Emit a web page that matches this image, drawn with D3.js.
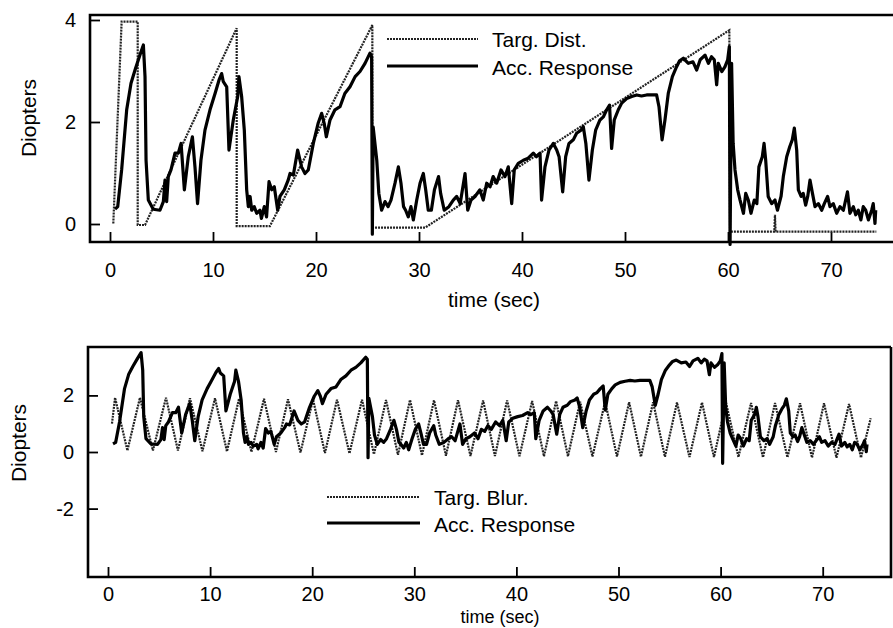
<!DOCTYPE html>
<html>
<head>
<meta charset="utf-8">
<script src="https://cdn.jsdelivr.net/npm/d3@7"></script>
<style>
  body { margin: 0; background: #fff; }
  svg { display: block; font-family: "Liberation Sans", Arial, Helvetica, sans-serif; }
</style>
</head>
<body>
<div id="graph"></div>
<script>
// accommodation response (diopters) vs time, same trace used in both panels
var respTime = [0.49,0.75,1.13,1.62,2.04,2.43,2.85,3.24,3.40,3.50,3.72,4.20,4.85,5.18,5.34,5.50,5.66,5.92,6.31,6.63,
  6.90,7.22,7.60,8.00,8.25,8.50,8.83,9.22,9.71,10.20,10.58,10.84,11.00,11.33,11.55,11.97,12.40,12.52,12.78,13.04,
  13.27,13.43,13.60,13.76,14.00,14.24,14.56,14.70,14.98,15.20,15.44,15.70,15.95,16.28,16.50,16.92,17.30,17.48,17.80,18.22,
  18.60,18.93,19.25,19.74,20.20,20.55,20.80,21.00,21.36,21.84,22.33,22.80,23.30,23.80,24.27,24.76,25.24,25.40,25.47,25.55,
  25.90,26.10,26.37,26.70,27.00,27.28,27.67,28.00,28.25,28.50,28.70,28.96,29.22,29.45,29.78,30.10,30.42,30.65,30.90,31.20,
  31.50,31.90,32.10,32.45,32.90,33.33,33.66,34.00,34.47,34.73,35.05,35.44,35.90,36.24,36.57,36.90,37.20,37.54,37.96,38.35,
  38.67,39.00,39.25,39.64,40.13,40.60,41.10,41.40,41.75,41.90,42.23,42.62,43.04,43.37,43.60,43.95,44.24,44.56,44.98,45.30,
  45.73,45.95,46.20,46.50,46.83,47.15,47.57,47.90,48.22,48.50,48.70,48.96,49.35,49.68,50.16,50.65,51.14,51.60,52.10,52.60,
  53.07,53.30,53.60,53.88,54.20,54.60,55.00,55.30,55.66,56.15,56.60,56.96,57.30,57.77,58.10,58.40,58.67,58.90,59.06,59.40,
  59.70,59.97,60.13,60.20,60.35,60.50,60.68,60.94,61.17,61.50,61.72,61.97,62.23,62.55,62.80,63.00,63.33,63.50,63.66,63.90,
  64.24,64.56,64.80,65.15,65.37,65.70,66.00,66.24,66.44,66.67,66.83,67.10,67.30,67.54,67.74,67.96,68.20,68.45,68.77,69.10,
  69.35,69.67,69.90,70.22,70.55,70.87,71.20,71.60,71.84,72.17,72.40,72.65,72.90,73.13,73.37,73.63,73.95,74.10,74.27,74.34];
var respDiopters = [0.29,0.34,1.06,2.24,2.76,3.02,3.28,3.51,2.89,1.25,0.47,0.29,0.27,0.44,0.86,0.44,0.93,1.06,1.39,1.39,
  1.58,0.67,1.32,1.71,1.12,0.40,1.25,1.84,2.24,2.56,2.82,2.95,2.79,2.69,1.45,2.04,2.50,2.89,2.50,1.84,
  0.67,0.34,0.54,0.27,0.34,0.21,0.27,0.11,0.34,0.14,0.83,0.67,0.73,0.27,0.54,0.67,0.86,0.99,0.96,1.45,
  1.12,0.99,1.06,1.58,1.97,2.17,1.97,1.71,2.04,2.24,2.30,2.56,2.69,2.89,2.99,3.15,3.35,3.28,-0.20,1.90,
  1.25,0.60,0.27,0.44,0.34,0.47,0.80,1.12,0.80,0.34,0.27,0.14,0.34,0.08,0.47,0.80,0.99,0.67,0.27,0.27,
  0.67,0.93,0.60,0.27,0.34,0.47,0.54,0.40,0.99,0.27,0.47,0.54,0.67,0.47,0.80,0.73,0.93,0.80,1.06,0.93,
  1.12,0.40,1.06,1.19,1.25,1.29,1.39,1.32,1.39,0.47,1.12,1.45,1.58,1.45,1.32,0.63,1.32,1.58,1.65,1.78,
  1.84,1.91,1.58,0.86,1.45,1.84,2.04,2.10,2.24,2.33,1.48,2.04,2.24,2.37,2.46,2.50,2.53,2.51,2.53,2.53,
  2.53,2.30,1.65,2.04,2.56,2.89,3.08,3.20,3.25,3.15,3.18,3.02,3.22,3.31,3.15,3.28,3.22,2.73,3.15,2.99,
  3.08,3.22,3.48,-0.40,3.15,1.58,1.06,0.67,0.47,0.21,0.60,0.47,0.21,0.47,0.40,1.12,1.32,1.58,1.25,0.54,
  0.40,0.47,0.27,0.54,0.93,1.32,1.52,1.65,1.88,1.45,0.67,0.54,0.60,0.37,0.54,0.86,0.60,0.34,0.40,0.27,
  0.40,0.54,0.34,0.40,0.21,0.34,0.27,0.63,0.21,0.34,0.18,0.27,0.08,0.34,0.27,0.08,0.27,0.40,0.01,0.27];

// target distance (top panel)
var distTime = [0.32,1.13,2.69,2.69,3.40,12.30,12.30,15.53,25.47,25.47,30.60,60.13,60.20,64.50,64.56,64.62,74.40];
var distDiopters = [0.01,3.97,3.97,-0.02,-0.02,3.84,-0.04,-0.04,3.90,-0.07,-0.07,3.80,-0.15,-0.15,0.18,-0.15,-0.15];

// target blur (bottom panel)
var blurTime = [0.39,0.69,1.90,3.13,4.40,5.68,6.85,8.03,9.25,10.48,11.65,12.83,14.05,15.28,16.45,17.63,18.85,20.08,21.25,22.43,
  23.65,24.88,26.05,27.23,28.40,29.58,30.75,31.93,33.10,34.28,35.50,36.74,37.90,39.09,40.30,41.54,42.70,43.89,45.05,46.24,
  47.45,48.69,49.85,51.04,52.20,53.39,54.55,55.73,56.95,58.18,59.35,60.53,61.75,62.98,64.15,65.33,66.55,67.78,68.95,70.13,
  71.35,72.58,73.75,74.70];
var blurDiopters = [1.00,1.92,0.05,1.92,0.05,1.92,0.05,1.90,0.03,1.90,0.02,1.88,0.00,1.88,0.00,1.86,-0.02,1.86,-0.04,1.85,
  -0.05,1.85,-0.08,1.84,-0.10,1.84,-0.12,1.83,-0.13,1.83,-0.14,1.82,-0.14,1.82,-0.15,1.80,-0.15,1.80,-0.15,1.78,
  -0.16,1.78,-0.16,1.76,-0.17,1.76,-0.17,1.75,-0.18,1.75,-0.18,1.74,-0.18,1.73,-0.19,1.73,-0.19,1.72,-0.20,1.72,
  -0.20,1.70,-0.20,1.19];

var timeTicks = [0, 10, 20, 30, 40, 50, 60, 70];
var topYTicks = [0, 2, 4];
var bottomYTicks = [-2, 0, 2];

var svgWidth = 893, svgHeight = 628;
var svg = d3.select("#graph").append("svg")
  .attr("width", svgWidth)
  .attr("height", svgHeight);

var targetColor = "#222";
var targetDash = "2,1";

function drawPanel(p) {
  var x = d3.scaleLinear().domain([0, 75]).range(p.xRange);
  var y = d3.scaleLinear().domain([0, 2]).range(p.yRange);
  var g = svg.append("g");

  // frame
  g.append("path")
    .attr("d", `M${p.right},${p.top} H${p.left} V${p.bottom} H${p.right}` + (p.rightEdge ? ` V${p.top}` : ""))
    .attr("fill", "none")
    .attr("stroke", "#000")
    .attr("stroke-width", 2.6);

  var xAxis = g.append("g")
    .attr("transform", `translate(0,${p.bottom})`)
    .call(d3.axisBottom(x).tickValues(timeTicks).tickSize(-10).tickPadding(p.xPad).tickFormat(d => String(d)));
  var yAxis = g.append("g")
    .attr("transform", `translate(${p.left},0)`)
    .call(d3.axisLeft(y).tickValues(p.yTicks).tickSize(-10).tickPadding(14).tickFormat(d => String(d)));

  [xAxis, yAxis].forEach(function(a) {
    a.select(".domain").remove();
    a.selectAll(".tick line").attr("stroke", "#000").attr("stroke-width", 1.8);
    a.selectAll(".tick text")
      .attr("font-family", "Liberation Sans, Arial, sans-serif")
      .attr("font-size", 20)
      .attr("fill", "#000");
  });

  g.append("text")
    .attr("transform", `translate(${p.titleX},${p.titleY}) rotate(-90)`)
    .attr("text-anchor", "middle")
    .attr("font-size", 21)
    .text("Diopters");

  g.append("text")
    .attr("x", p.timeX)
    .attr("y", p.timeY)
    .attr("text-anchor", "middle")
    .attr("font-size", p.timeSize)
    .text("time (sec)");

  var line = d3.line().x(d => x(d[0])).y(d => y(d[1]));

  g.append("path")
    .datum(d3.zip(p.targetTime, p.targetValues))
    .attr("d", line)
    .attr("fill", "none")
    .attr("stroke", targetColor)
    .attr("stroke-width", 2.2)
    .attr("stroke-dasharray", targetDash);

  g.append("path")
    .datum(d3.zip(respTime, respDiopters))
    .attr("d", line)
    .attr("fill", "none")
    .attr("stroke", "#000")
    .attr("stroke-width", 3.2)
    .attr("stroke-linejoin", "round");

  // legend
  var lg = g.append("g");
  lg.append("line")
    .attr("x1", p.legX1).attr("x2", p.legX2)
    .attr("y1", p.legY).attr("y2", p.legY)
    .attr("stroke", targetColor).attr("stroke-width", 2.2).attr("stroke-dasharray", targetDash);
  lg.append("line")
    .attr("x1", p.legX1).attr("x2", p.legX2)
    .attr("y1", p.legY + p.legGap).attr("y2", p.legY + p.legGap)
    .attr("stroke", "#000").attr("stroke-width", 3.2);
  lg.append("text")
    .attr("x", p.legX2 + 14).attr("y", p.legY + 8)
    .attr("font-size", 21)
    .text(p.targetName);
  lg.append("text")
    .attr("x", p.legX2 + 14).attr("y", p.legY + p.legGap + 9)
    .attr("font-size", 21)
    .text("Acc. Response");
}

drawPanel({
  left: 90, top: 15, bottom: 242, right: 895, rightEdge: false,
  xRange: [110, 882.5], yRange: [224, 122], yTicks: topYTicks, xPad: 21,
  titleX: 36, titleY: 118, timeX: 494, timeY: 307, timeSize: 21,
  targetTime: distTime, targetValues: distDiopters, targetName: "Targ. Dist.",
  legX1: 387, legX2: 478, legY: 39, legGap: 27
});

drawPanel({
  left: 88, top: 347, bottom: 577, right: 891, rightEdge: true,
  xRange: [108, 873.75], yRange: [452, 395.4], yTicks: bottomYTicks, xPad: 10,
  titleX: 26, titleY: 443, timeX: 500, timeY: 623, timeSize: 18,
  targetTime: blurTime, targetValues: blurDiopters, targetName: "Targ. Blur.",
  legX1: 327, legX2: 420, legY: 497, legGap: 26
});
</script>
</body>
</html>
